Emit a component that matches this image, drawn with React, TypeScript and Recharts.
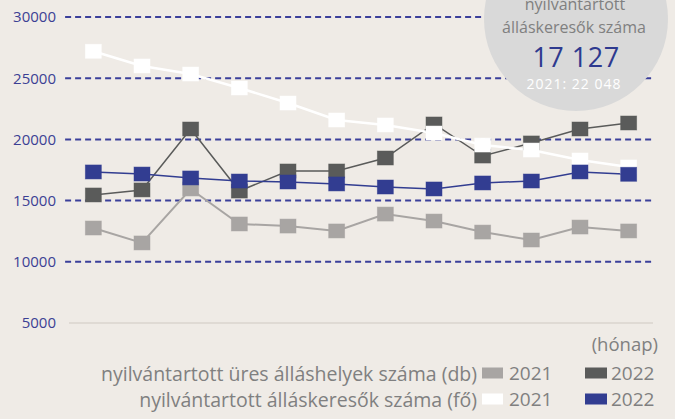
import React from "react";
import { LineChart, Line, XAxis, YAxis, ReferenceLine } from "recharts";

const months = [1, 2, 3, 4, 5, 6, 7, 8, 9, 10, 11, 12];
const vacancies2021 = [12760, 11540, 15950, 13090, 12920, 12520, 13900, 13330, 12430, 11780, 12840, 12520];
const vacancies2022 = [15460, 15870, 20850, 15780, 17420, 17420, 18480, 21260, 18640, 19710, 20850, 21340];
const seekers2021 = [27200, 26000, 25340, 24200, 22970, 21585, 21180, 20520, 19540, 19130, 18320, 17750];
const seekers2022 = [17340, 17170, 16850, 16600, 16520, 16360, 16110, 15950, 16440, 16600, 17340, 17150];
const yTicks = [5000, 10000, 15000, 20000, 25000, 30000];
const gridValues = [10000, 15000, 20000, 25000, 30000];
const xTicks = [0, 1, 2, 3, 4, 5, 6, 7, 8, 9, 10, 11, 12];

const circleTitle = ["nyilvántartott", "álláskeresők száma"];
const circleValue = "17 127";
const circlePrev = "2021: 22 048";
const legendRows = [
  { label: "nyilvántartott üres álláshelyek száma (db)", c2021: "#a8a5a3", c2022: "#5a5b5a" },
  { label: "nyilvántartott álláskeresők száma (fő)", c2021: "#ffffff", c2022: "#323d91" },
];

const data = months.map((m, i) => ({
  x: m - 0.5,
  v21: vacancies2021[i],
  v22: vacancies2022[i],
  s21: seekers2021[i],
  s22: seekers2022[i],
}));

const BG = "#efebe6";
const FONT = "'Open Sans', sans-serif";
const GRAY_TEXT = "#808080";

const squareDot = (fill: string) => (props: any) => {
  const { cx, cy, index } = props;
  if (cx == null || cy == null) return <g key={index} />;
  return <rect key={index} x={cx - 8} y={cy - 7} width={16} height={14} fill={fill} stroke={fill} strokeOpacity={0.6} strokeWidth={0.8} />;
};

export default function App() {
  return (
    <div style={{ position: "fixed", left: 0, top: 0, width: 675, height: 419, background: BG, overflow: "hidden" }}>
      <div style={{ position: "absolute", left: 0, top: 0 }}>
        <LineChart width={675} height={340} data={data} margin={{ top: 17, right: 22, bottom: 7, left: 0 }}>
          <XAxis
            dataKey="x"
            type="number"
            domain={[0, 12]}
            ticks={xTicks}
            height={10}
            tick={false}
            tickSize={-7}
            axisLine={{ stroke: "#dfdad4", strokeWidth: 2 }}
            tickLine={{ stroke: "#dfdad4", strokeWidth: 1.5 }}
          />
          <YAxis
            type="number"
            domain={[5000, 30000]}
            ticks={yTicks}
            width={69}
            axisLine={false}
            tickLine={false}
            tickSize={6}
            tickMargin={7}
            tick={{ fill: "#3c3f94", fontSize: 15, fontFamily: FONT }}
          />
          {gridValues.map((v) => (
            <ReferenceLine
              key={v}
              segment={[{ x: -0.08, y: v }, { x: 12.04, y: v }]}
              ifOverflow="visible"
              stroke="#3a3f9a"
              strokeWidth={2}
              strokeDasharray="6 4"
            />
          ))}
          <Line dataKey="v21" stroke="#a8a5a3" strokeWidth={2} dot={squareDot("#a8a5a3")} isAnimationActive={false} />
          <Line dataKey="v22" stroke="#5a5b5a" strokeWidth={1.5} dot={squareDot("#5a5b5a")} isAnimationActive={false} />
          <Line dataKey="s21" stroke="#ffffff" strokeWidth={2.5} dot={squareDot("#ffffff")} isAnimationActive={false} />
          <Line dataKey="s22" stroke="#323d91" strokeWidth={1.5} dot={squareDot("#323d91")} isAnimationActive={false} />
        </LineChart>
      </div>
      <svg width={675} height={419} style={{ position: "absolute", left: 0, top: 0, pointerEvents: "none" }}>
        <circle cx={576} cy={19} r={92} fill="#d9d9d9" />
        <text x={575} y={10} textAnchor="middle" fontFamily={FONT} fontSize={16} fill={GRAY_TEXT}>{circleTitle[0]}</text>
        <text x={574} y={33} textAnchor="middle" fontFamily={FONT} fontSize={16} fill={GRAY_TEXT}>{circleTitle[1]}</text>
        <text x={576} y={67} textAnchor="middle" fontFamily={FONT} fontSize={27} letterSpacing={0.5} fill="#2e3a8f">{circleValue}</text>
        <text x={574} y={89} textAnchor="middle" fontFamily={FONT} fontSize={14} letterSpacing={1} fill="#ffffff">{circlePrev}</text>
        <text x={658} y={343} textAnchor="end" dominantBaseline="central" fontFamily={FONT} fontSize={18.5} fill={GRAY_TEXT}>(hónap)</text>
        {legendRows.map((r, i) => {
          const cy = 373 + i * 26;
          return (
            <g key={i}>
              <text x={477} y={cy} textAnchor="end" dominantBaseline="central" fontFamily={FONT} fontSize={19.5} fill={GRAY_TEXT}>{r.label}</text>
              <rect x={482} y={cy - 5.5} width={21} height={11} fill={r.c2021} />
              <text x={509} y={cy} dominantBaseline="central" fontFamily={FONT} fontSize={19} fill={GRAY_TEXT}>2021</text>
              <rect x={585} y={cy - 5.5} width={22} height={11} fill={r.c2022} />
              <text x={611} y={cy} dominantBaseline="central" fontFamily={FONT} fontSize={19} fill={GRAY_TEXT}>2022</text>
            </g>
          );
        })}
      </svg>
    </div>
  );
}
